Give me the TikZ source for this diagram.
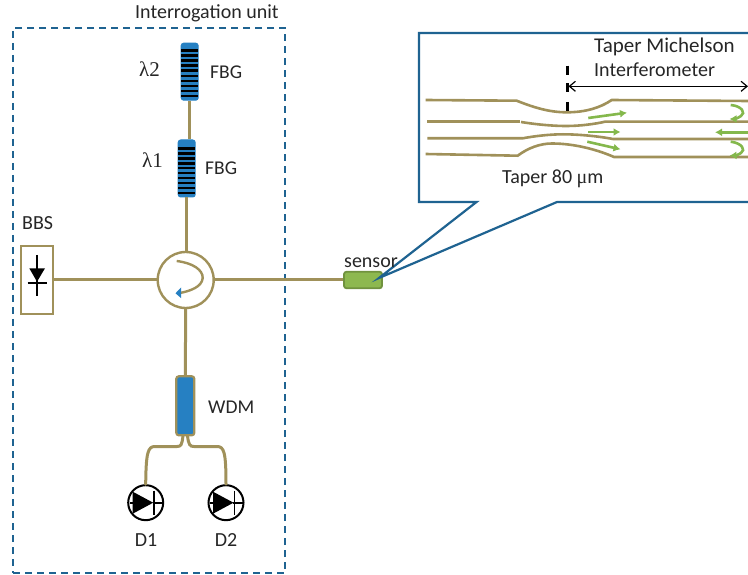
\documentclass[tikz,border=0pt]{standalone}
\usepackage{fontspec}
\setmainfont{Carlito}
\newfontfamily\grk{Liberation Serif}
\usetikzlibrary{arrows.meta}
\definecolor{olivef}{HTML}{A0915A}
\definecolor{dblue}{HTML}{1F6391}
\definecolor{mblue}{HTML}{2680C2}
\definecolor{gfill}{HTML}{8DB84F}
\definecolor{gedge}{HTML}{70923E}
\definecolor{garrow}{HTML}{84B84C}
\tikzset{
  fibre/.style={draw=olivef,line width=3pt},
  thinfibre/.style={draw=olivef,line width=2.6pt},
  lbl/.style={anchor=base west,inner sep=0pt,font=\fontsize{20}{23}\selectfont,text=black!85},
  biglbl/.style={lbl,font=\fontsize{21}{24}\selectfont},
  bluebox/.style={draw=mblue,fill=mblue,rounded corners=2.5pt,minimum width=17pt,minimum height=57pt,inner sep=0pt,line width=1pt},
  stripe/.style={draw=black,line width=2.4pt},
  garr/.style={draw=garrow,line width=2.6pt,-{Latex[length=7pt,width=8pt]}},
  diodecirc/.style={circle,draw=black,fill=white,line width=2pt,minimum size=35pt,inner sep=0pt}
}
\begin{document}
\begin{tikzpicture}[x=1pt,y=-1pt]
\useasboundingbox (0,0) rectangle (748,575);
\clip (0,0) rectangle (748,575);
% interrogation unit frame
\node[draw=dblue,dashed,dash pattern=on 7pt off 5pt,line width=2pt,minimum width=272pt,minimum height=545pt,inner sep=0pt] (unit) at (149,300.5) {};
\node[lbl] (unitlabel) at (135,18.5) {Interrogation unit};
\coordinate (forkl) at (183,435.5);
\coordinate (forkr) at (187.5,435.5);
% devices
\node[bluebox] (fbgtwo) at (189.7,71.7) {};
\node[bluebox] (fbgone) at (186.7,168.5) {};
\foreach \i in {0,...,9} {\draw[stripe] (181,{50.5+\i*5.05}) -- (198.4,{50.5+\i*5.05});}
\foreach \i in {0,...,9} {\draw[stripe] (178,{148.5+\i*4.95}) -- (195.4,{148.5+\i*4.95});}
\node[circle,draw=olivef,fill=white,line width=2.4pt,minimum size=56pt,inner sep=0pt] (circ) at (185.7,280) {};
\node[draw=olivef,fill=white,line width=2.2pt,minimum width=32pt,minimum height=68pt,inner sep=0pt] (bbs) at (37,280) {};
\node[draw=gedge,fill=gfill,rounded corners=2.5pt,line width=1.8pt,minimum width=38pt,minimum height=16.5pt,inner sep=0pt] (sensor) at (363,280) {};
\node[draw=olivef,fill=mblue,rounded corners=2.5pt,line width=2.2pt,minimum width=18pt,minimum height=59pt,inner sep=0pt] (wdm) at (185.3,405.8) {};
\node[diodecirc] (done) at (145.7,502.7) {};
\node[diodecirc] (dtwo) at (226,502.7) {};
% fibres
\draw[fibre] (fbgtwo.south) -- (fbgtwo.south |- fbgone.north);
\draw[fibre] (fbgone.south) -- (fbgone.south |- circ.north);
\draw[fibre] (bbs.east) -- (circ.west);
\draw[fibre] (circ.east) -- (sensor.west);
\draw[fibre] (circ.south) -- (wdm.north);
\draw[fibre,line cap=round] (forkl) .. controls (182,445) and (181,446.5) .. (177,446.5) -- (155,446.5) .. controls (148,446.5) and (146,452) .. (done.north);
\draw[fibre,line cap=round] (forkr) .. controls (188.5,445) and (190,446.5) .. (194,446.5) -- (217,446.5) .. controls (224,446.5) and (226,452) .. (dtwo.north);
% circulator inner arrow
\draw[draw=olivef,line width=2.4pt] (176.7,261) .. controls (193,263) and (203,270) .. (202.7,278) .. controls (202,287) and (190,291) .. (180,293);
\fill[mblue] (175.5,293.3) -- (181,287.5) -- (181,298) -- cycle;
% BBS diode
\draw[black,line width=1.6pt] (37,255) -- (37,296);
\draw[black,line width=1.6pt] (27.5,283.3) -- (46.5,283.3);
\fill[black] (29.3,268.3) -- (45,268.3) -- (37,281.7) -- cycle;
% D1, D2 symbols
\foreach \c in {done,dtwo} {
  \begin{scope}[shift={(\c.center)}]
  \fill[black] (-13,-11) -- (-13,11) -- (7.5,0) -- cycle;
  \draw[black,line width=1.6pt] (8.5,-12) -- (8.5,12);
  \draw[black,line width=1.6pt] (-16,0) -- (-13,0) (7,0) -- (17,0);
  \end{scope}
}
% inset callout
\coordinate (tip) at (379,278);
\draw[draw=dblue,fill=white,line width=2.2pt,line join=miter] (760,33) -- (419,33) -- (419,202) -- (476.5,202) -- (tip) -- (557,202) -- (760,202);
% inset fibres
\draw[thinfibre] (425.7,100) -- (516.7,100.7) .. controls (535,108) and (550,112.3) .. (566.7,112.3) .. controls (585,112.3) and (600,108) .. (611.7,100) -- (748,101);
\draw[thinfibre] (427.3,121.7) -- (520,121.7);
\draw[thinfibre] (521,122) .. controls (540,125) and (555,126) .. (566.7,126) .. controls (580,126) and (595,124) .. (605,121.7) -- (748,121.7);
\draw[thinfibre] (427.3,138.3) -- (522.7,138.3) .. controls (535,136) and (550,134.3) .. (563,134.3) .. controls (580,134.3) and (600,136.5) .. (613,139) -- (748,139);
\draw[thinfibre] (425.7,154) -- (517.7,155.7) .. controls (528,148) and (540,143.5) .. (552,143.5) .. controls (575,143.5) and (598,150) .. (614,157) -- (748,157);
% inset arrows
\draw[garr] (588.3,118) -- (627,112.7);
\draw[garr] (588.3,132) -- (620.5,132);
\draw[garr] (587.3,141.7) -- (620.5,149.3);
\draw[garr] (748,132.3) -- (715,132.3);
\draw[garr] (730.7,105) .. controls (742,106) and (746,113) .. (741,116) .. controls (738,118) and (735,119) .. (729.5,119);
\draw[garr] (730.7,141.7) .. controls (742,143) and (746,150) .. (741,153) .. controls (738,155) and (735,155.5) .. (729.5,155.7);
% measure
\draw[black,line width=2.2pt] (567.5,65.7) -- (567.5,75) (567.5,83.3) -- (567.5,92) (567.5,102) -- (567.5,111);
\draw[black,line width=1.2pt,{Straight Barb[length=6pt,width=10pt]}-{Straight Barb[length=6pt,width=10pt]}] (568.5,86.3) -- (748,86.3);
% labels
\node[biglbl] (tm) at (594,53) {Taper Michelson};
\node[lbl] (ifm) at (594,77) {Interferometer};
\node[lbl] (tap) at (502,184) {Taper 80 {\grk μ}m};
\node[lbl,font=\fontsize{19.5}{22}\selectfont] (fbgtl) at (210,79) {FBG};
\node[lbl,font=\fontsize{19.5}{22}\selectfont] (fbgol) at (205,175) {FBG};
\node[lbl,font=\grk\fontsize{21}{24}\selectfont] (ltwo) at (139,76.5) {λ2};
\node[lbl,font=\grk\fontsize{21}{24}\selectfont] (lone) at (142,168) {λ1};
\node[lbl] (bbsl) at (22,230) {BBS};
\node[lbl] (senl) at (344,268) {sensor};
\node[lbl,font=\fontsize{19.5}{22}\selectfont] (wdml) at (208,413) {WDM};
\node[lbl,anchor=base] (done l) at (146,546) {D1};
\node[lbl,anchor=base] (dtwo l) at (226,546) {D2};
\end{tikzpicture}
\end{document}
